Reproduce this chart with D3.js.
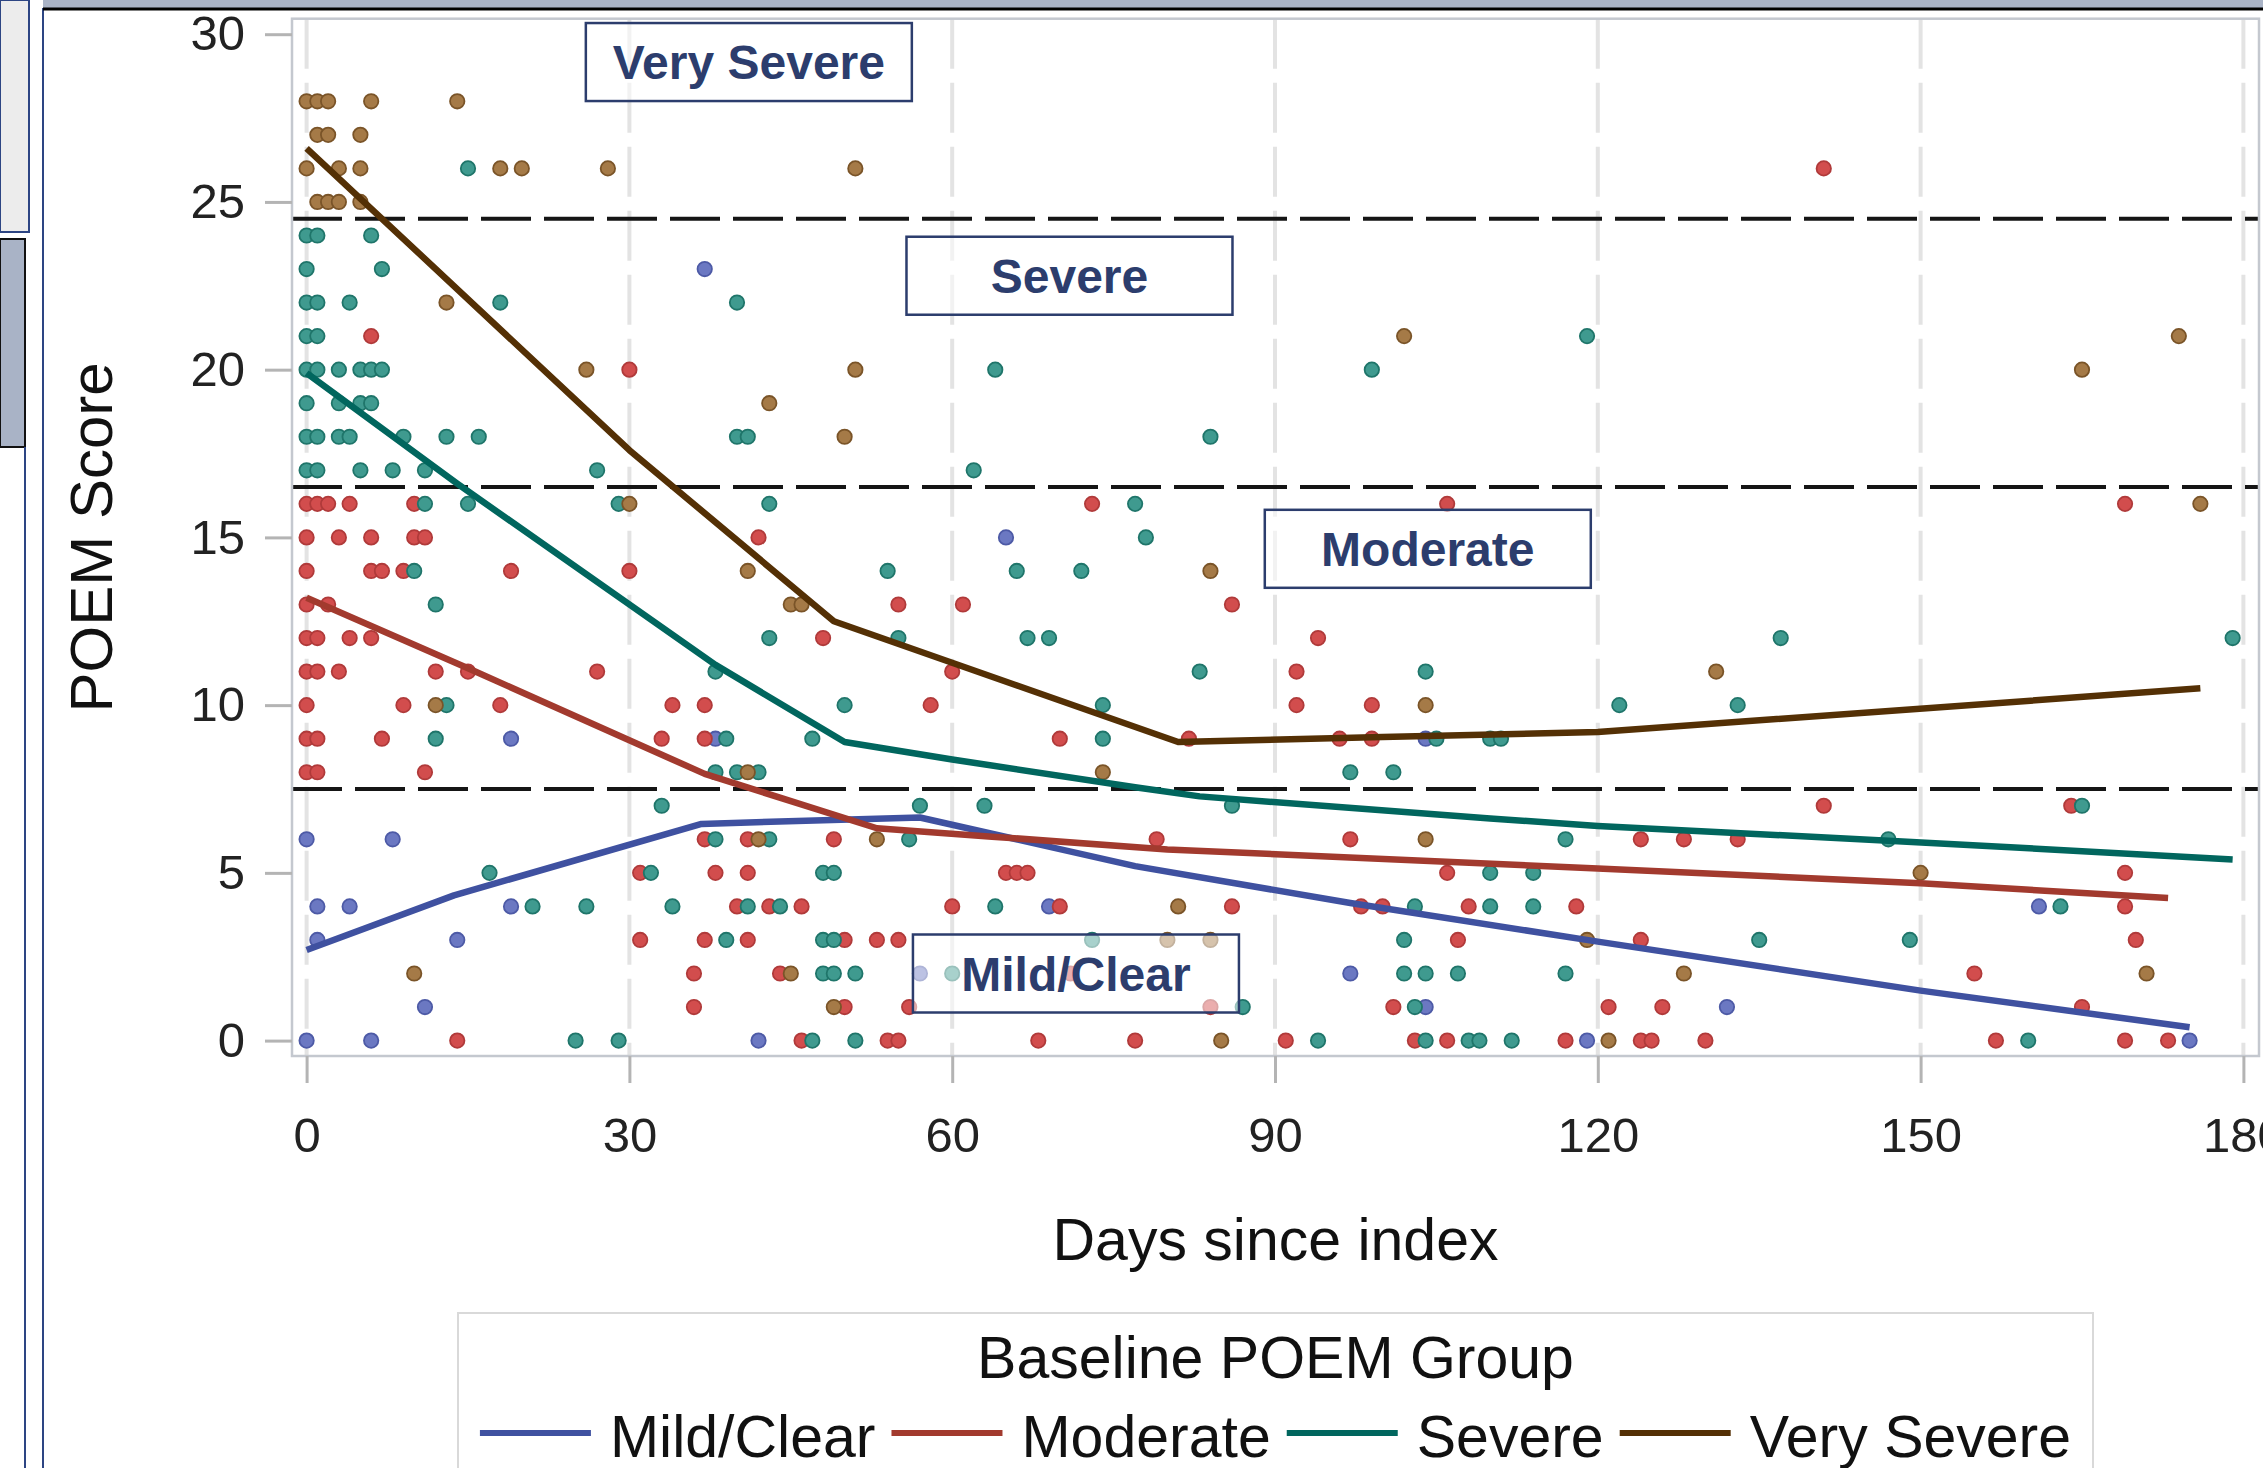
<!DOCTYPE html>
<html>
<head>
<meta charset="utf-8">
<script src="https://cdn.jsdelivr.net/npm/d3@7"></script>
<style>
  body { margin: 0; background: #fff; }
  svg text { font-family: "Liberation Sans", Arial, sans-serif; }
</style>
</head>
<body>
<div id="chart"></div>
<script>
// ---- data ----
var groups = ["Mild/Clear", "Moderate", "Severe", "Very Severe"];
var xTicks = [0, 30, 60, 90, 120, 150, 180];
var yTicks = [0, 5, 10, 15, 20, 25, 30];
var bandCuts = [7.5, 16.5, 24.5];
var bandNames = ["Very Severe", "Severe", "Moderate", "Mild/Clear"];
var bandAnchors = [[41.1, 29.17], [70.9, 22.8], [104.2, 14.66], [71.5, 2.0]];

// [day, POEM score]
var mildPoints = [[37,23],[65,15],[19,9],[38,9],[104,9],[0,6],[8,6],[1,4],[4,4],[19,4],[69,4],[161,4],
  [1,3],[14,3],[57,2],[97,2],[11,1],[104,1],[132,1],[0,0],[6,0],[42,0],[119,0],[175,0]];

var moderatePoints = [[141,26],[6,21],[30,20],
  [0,16],[1,16],[2,16],[4,16],[10,16],[73,16],[106,16],[169,16],
  [0,15],[3,15],[6,15],[10,15],[11,15],[42,15],
  [0,14],[6,14],[7,14],[9,14],[19,14],[30,14],
  [0,13],[2,13],[55,13],[61,13],[86,13],
  [0,12],[1,12],[4,12],[6,12],[48,12],[94,12],
  [0,11],[1,11],[3,11],[12,11],[15,11],[27,11],[60,11],[92,11],
  [0,10],[9,10],[18,10],[34,10],[37,10],[58,10],[92,10],[99,10],
  [0,9],[1,9],[7,9],[33,9],[37,9],[70,9],[82,9],[96,9],[99,9],
  [0,8],[1,8],[11,8],[141,7],[164,7],
  [37,6],[41,6],[49,6],[79,6],[97,6],[124,6],[128,6],[133,6],
  [31,5],[38,5],[41,5],[65,5],[66,5],[67,5],[106,5],[169,5],
  [40,4],[43,4],[46,4],[60,4],[70,4],[86,4],[98,4],[100,4],[108,4],[118,4],[169,4],
  [31,3],[37,3],[41,3],[50,3],[53,3],[55,3],[107,3],[124,3],[170,3],
  [36,2],[44,2],[71,2],[155,2],
  [36,1],[50,1],[56,1],[84,1],[101,1],[121,1],[126,1],[165,1],
  [14,0],[46,0],[54,0],[55,0],[68,0],[77,0],[91,0],[103,0],[106,0],[117,0],[124,0],[125,0],
  [130,0],[157,0],[169,0],[173,0]];

var severePoints = [[15,26],[0,24],[1,24],[6,24],[0,23],[7,23],
  [0,22],[1,22],[4,22],[18,22],[40,22],[0,21],[1,21],[119,21],
  [0,20],[1,20],[3,20],[5,20],[6,20],[7,20],[64,20],[99,20],
  [0,19],[3,19],[5,19],[6,19],
  [0,18],[1,18],[3,18],[4,18],[9,18],[13,18],[16,18],[40,18],[41,18],[84,18],
  [0,17],[1,17],[5,17],[8,17],[11,17],[27,17],[62,17],
  [11,16],[15,16],[29,16],[43,16],[77,16],[78,15],
  [10,14],[54,14],[66,14],[72,14],[12,13],
  [43,12],[55,12],[67,12],[69,12],[137,12],[179,12],
  [38,11],[83,11],[104,11],
  [13,10],[50,10],[74,10],[122,10],[133,10],
  [12,9],[39,9],[47,9],[74,9],[105,9],[110,9],[111,9],
  [38,8],[40,8],[42,8],[97,8],[101,8],
  [33,7],[57,7],[63,7],[86,7],[165,7],
  [38,6],[43,6],[56,6],[117,6],[147,6],
  [17,5],[32,5],[48,5],[49,5],[110,5],[114,5],
  [21,4],[26,4],[34,4],[41,4],[44,4],[64,4],[103,4],[110,4],[114,4],[163,4],
  [39,3],[48,3],[49,3],[73,3],[102,3],[135,3],[149,3],
  [48,2],[49,2],[51,2],[60,2],[102,2],[104,2],[107,2],[117,2],
  [87,1],[103,1],
  [25,0],[29,0],[47,0],[51,0],[94,0],[104,0],[108,0],[109,0],[112,0],[160,0]];

var verySeverePoints = [[0,28],[1,28],[2,28],[6,28],[14,28],[1,27],[2,27],[5,27],
  [0,26],[3,26],[5,26],[18,26],[20,26],[28,26],[51,26],
  [1,25],[2,25],[3,25],[5,25],
  [13,22],[102,21],[174,21],[26,20],[51,20],[165,20],[43,19],[50,18],
  [30,16],[176,16],[41,14],[84,14],[45,13],[46,13],[131,11],[12,10],[104,10],
  [41,8],[74,8],[42,6],[53,6],[104,6],[150,5],[81,4],[80,3],[84,3],[119,3],
  [10,2],[45,2],[128,2],[171,2],[49,1],[85,0],[121,0]];

// fitted group curves [day, score]
var mildCurve = [[0,2.7],[13.7,4.33],[36.7,6.46],[57,6.65],[77,5.2],[97,4.1],[120,2.95],[150,1.49],[175,0.4]];
var moderateCurve = [[0,13.2],[15,11.1],[37,7.95],[53,6.33],[63.7,6.08],[80,5.7],[120,5.13],[150,4.69],[173,4.25]];
var severeCurve = [[0,19.9],[14,16.6],[38,11.2],[50,8.9],[60,8.38],[77,7.55],[83,7.28],[110,6.62],[120,6.4],[147,5.96],[179,5.4]];
var verySevereCurve = [[0,26.6],[30,17.6],[49,12.5],[81,8.9],[100,9.05],[120,9.2],[176,10.5]];

// ---- styles ----
var lineColors = ["#3f51a0", "#a23a2e", "#01665e", "#543005"];
var dotFill = ["#6b78c2", "#d24d4d", "#3f9a8f", "#a57a47"];
var dotStroke = ["#4d5aa6", "#b03a3a", "#1f756a", "#7a5428"];
var navy = "#2c3d6d";

var svgWidth = 2263;
var svgHeight = 1468;
var frame = { left: 292, right: 2259, top: 18.7, bottom: 1056 };

var svg = d3.select("#chart")
  .append("svg")
  .attr("width", svgWidth)
  .attr("height", svgHeight);

// window chrome round the picture
svg.append("rect").attr("x", 0).attr("y", 0).attr("width", 29).attr("height", 232)
  .attr("fill", "#ececec").attr("stroke", "#2d4583").attr("stroke-width", 2);
svg.append("rect").attr("x", 0).attr("y", 239).attr("width", 25).attr("height", 208)
  .attr("fill", "#a9b3c6").attr("stroke", "#111").attr("stroke-width", 2);
svg.append("line").attr("x1", 25).attr("x2", 25).attr("y1", 447).attr("y2", svgHeight)
  .attr("stroke", "#2d4583").attr("stroke-width", 2);
svg.append("line").attr("x1", 43).attr("x2", 43).attr("y1", 8).attr("y2", svgHeight)
  .attr("stroke", "#2d4583").attr("stroke-width", 2);
svg.append("rect").attr("x", 43).attr("y", 0).attr("width", svgWidth - 43).attr("height", 8)
  .attr("fill", "#a9b3c6");
svg.append("line").attr("x1", 43).attr("x2", svgWidth).attr("y1", 9).attr("y2", 9)
  .attr("stroke", "#000").attr("stroke-width", 3);

// scales
var xScale = d3.scaleLinear().domain([0, 180]).range([306.6, 2243.4]);
var yScale = d3.scaleLinear().domain([0, 30]).range([1040.6, 34.2]);

var plot = svg.append("g");

// vertical grid
plot.selectAll(".vgrid")
  .data(xTicks)
  .enter()
  .append("line")
  .attr("class", "vgrid")
  .attr("x1", d => xScale(d)).attr("x2", d => xScale(d))
  .attr("y1", frame.top).attr("y2", frame.bottom)
  .attr("stroke", "#e3e3e3")
  .attr("stroke-width", 4)
  .attr("stroke-dasharray", "50,14");

// category cut lines
plot.selectAll(".cut")
  .data(bandCuts)
  .enter()
  .append("line")
  .attr("class", "cut")
  .attr("x1", frame.left).attr("x2", frame.right)
  .attr("y1", d => yScale(d)).attr("y2", d => yScale(d))
  .attr("stroke", "#151515")
  .attr("stroke-width", 4)
  .attr("stroke-dasharray", "50,13");

// points
var pointSets = [mildPoints, moderatePoints, severePoints, verySeverePoints];
pointSets.forEach(function(pts, i) {
  plot.append("g")
    .selectAll("circle")
    .data(pts)
    .enter()
    .append("circle")
    .attr("cx", d => xScale(d[0]))
    .attr("cy", d => yScale(d[1]))
    .attr("r", 7.2)
    .attr("fill", dotFill[i])
    .attr("stroke", dotStroke[i])
    .attr("stroke-width", 1.8);
});

// curves
var line = d3.line().x(d => xScale(d[0])).y(d => yScale(d[1]));
var curves = [mildCurve, moderateCurve, severeCurve, verySevereCurve];
curves.forEach(function(c, i) {
  plot.append("path")
    .datum(c)
    .attr("d", line)
    .attr("fill", "none")
    .attr("stroke", lineColors[i])
    .attr("stroke-width", 6.5)
    .attr("stroke-linejoin", "round");
});

// category labels
var boxW = 326, boxH = 78;
bandNames.forEach(function(name, i) {
  var cx = xScale(bandAnchors[i][0]);
  var cy = yScale(bandAnchors[i][1]);
  plot.append("rect")
    .attr("x", cx - boxW / 2).attr("y", cy - boxH / 2)
    .attr("width", boxW).attr("height", boxH)
    .attr("fill", "#fff").attr("fill-opacity", 0.55)
    .attr("stroke", navy).attr("stroke-width", 2.5);
  plot.append("text")
    .attr("x", cx).attr("y", cy + 17)
    .attr("text-anchor", "middle")
    .attr("font-size", 48)
    .attr("font-weight", "bold")
    .attr("fill", navy)
    .text(name);
});

// frame
svg.append("rect")
  .attr("x", frame.left).attr("y", frame.top)
  .attr("width", frame.right - frame.left).attr("height", frame.bottom - frame.top)
  .attr("fill", "none").attr("stroke", "#c4c8cf").attr("stroke-width", 2.5);

// axes
var leftAxis = d3.axisLeft(yScale).tickValues(yTicks).tickSize(27).tickPadding(20);
var bottomAxis = d3.axisBottom(xScale).tickValues(xTicks).tickSize(27).tickPadding(34);

var gy = svg.append("g").attr("transform", `translate(${frame.left}, 0)`).call(leftAxis);
var gx = svg.append("g").attr("transform", `translate(0, ${frame.bottom})`).call(bottomAxis);
[gx, gy].forEach(function(g) {
  g.select(".domain").remove();
  g.selectAll(".tick line").attr("stroke", "#b4b4b4").attr("stroke-width", 3);
  g.selectAll(".tick text").attr("font-size", 49).attr("fill", "#222")
    .attr("font-family", "'Liberation Sans', Arial, sans-serif");
});

// axis titles
svg.append("text")
  .attr("transform", `translate(112, ${(frame.top + frame.bottom) / 2}) rotate(-90)`)
  .attr("text-anchor", "middle")
  .attr("font-size", 60)
  .attr("fill", "#111")
  .text("POEM Score");

svg.append("text")
  .attr("x", (frame.left + frame.right) / 2)
  .attr("y", 1260)
  .attr("text-anchor", "middle")
  .attr("font-size", 59)
  .attr("fill", "#111")
  .text("Days since index");

// legend
var legend = { left: 458, right: 2093, top: 1313 };
svg.append("rect")
  .attr("x", legend.left).attr("y", legend.top)
  .attr("width", legend.right - legend.left).attr("height", 220)
  .attr("fill", "#fff").attr("stroke", "#d9d9d9").attr("stroke-width", 2);

svg.append("text")
  .attr("x", (legend.left + legend.right) / 2)
  .attr("y", 1378)
  .attr("text-anchor", "middle")
  .attr("font-size", 59)
  .attr("fill", "#111")
  .text("Baseline POEM Group");

var swatch = 111, gapText = 19, gapItem = 16;
var items = svg.append("g");
var labels = groups.map(function(g) {
  return items.append("text")
    .attr("y", 1457)
    .attr("font-size", 59)
    .attr("fill", "#111")
    .text(g);
});
var widths = labels.map(t => t.node().getComputedTextLength());
var total = d3.sum(widths) + groups.length * (swatch + gapText) + (groups.length - 1) * gapItem;
var xPos = (legend.left + legend.right) / 2 - total / 2;
groups.forEach(function(g, i) {
  items.append("line")
    .attr("x1", xPos).attr("x2", xPos + swatch)
    .attr("y1", 1433).attr("y2", 1433)
    .attr("stroke", lineColors[i]).attr("stroke-width", 6);
  labels[i].attr("x", xPos + swatch + gapText);
  xPos += swatch + gapText + widths[i] + gapItem;
});
</script>
</body>
</html>
